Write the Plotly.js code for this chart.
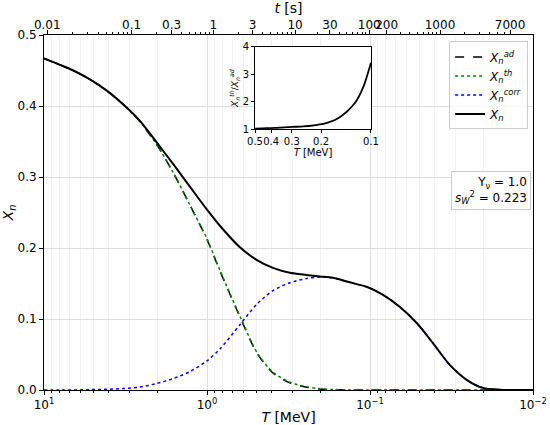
<!DOCTYPE html>
<html>
<head>
<meta charset="utf-8">
<script src="https://cdn.plot.ly/plotly-3.0.1.min.js"></script>
<style>html,body{margin:0;padding:0;background:#fff}#chart{width:550px;height:425px}</style>
</head>
<body>
<div id="chart"></div>
<script>
// Temperature grid [MeV]
const T = [10, 7.98, 6.61, 5.23, 4.12, 3.26, 2.58, 2.04, 1.61, 1.27, 1.0, 0.831, 0.628, 0.494, 0.394, 0.31, 0.245, 0.203, 0.169, 0.135, 0.104, 0.0832, 0.0655, 0.0515, 0.0411, 0.0323, 0.0254, 0.0203, 0.0159, 0.0125, 0.01];
const Xad = [0.467, 0.458, 0.450, 0.4375, 0.4216, 0.402, 0.378, 0.346, 0.306, 0.260, 0.212, 0.167, 0.103, 0.052, 0.024, 0.010, 0.004, 0.0015, 0.0005, 0.0001, 0, 0, 0, 0, 0, 0, 0, 0, 0, 0, 0];
const Xth = [0.467, 0.458, 0.450, 0.4375, 0.4216, 0.402, 0.378, 0.346, 0.306, 0.260, 0.213, 0.168, 0.104, 0.053, 0.025, 0.011, 0.0045, 0.0018, 0.0007, 0.0002, 0.0001, 0, 0, 0, 0, 0, 0, 0, 0, 0, 0];
const Xcorr = [0, 0, 0, 0.0005, 0.001, 0.002, 0.0042, 0.0092, 0.0162, 0.026, 0.041, 0.058, 0.092, 0.121, 0.140, 0.151, 0.157, 0.159, 0.158, 0.152, 0.145, 0.134, 0.117, 0.094, 0.066, 0.035, 0.014, 0.003, 0.0005, 0, 0];
const Xn = [0.467, 0.458, 0.450, 0.4375, 0.4216, 0.402, 0.379, 0.349, 0.318, 0.286, 0.254, 0.231, 0.201, 0.183, 0.172, 0.165, 0.162, 0.160, 0.158, 0.152, 0.145, 0.134, 0.117, 0.094, 0.066, 0.035, 0.014, 0.003, 0.0005, 0, 0];

// Inset: ratio X_th / X_ad
const insetT = [0.5, 0.45, 0.4, 0.371, 0.3, 0.256, 0.22, 0.194, 0.175, 0.161, 0.15, 0.14, 0.13, 0.122, 0.111, 0.1025, 0.1];
const insetRatio = [1.03, 1.04, 1.05, 1.06, 1.09, 1.11, 1.15, 1.20, 1.28, 1.38, 1.50, 1.64, 1.84, 2.05, 2.55, 3.20, 3.42];

// Tick labels
const bottomTickVals = [10, 1, 0.1, 0.01];
const bottomTickText = ['10<sup>1</sup>', '10<sup>0</sup>', '10<sup>\u22121</sup>', '10<sup>\u22122</sup>'];
const topTickTime = [0.01, 0.1, 0.3, 1, 3, 10, 30, 100, 200, 1000, 7000];
const topTickT = [9.55, 2.90, 1.65, 0.915, 0.525, 0.288, 0.176, 0.101, 0.079, 0.0372, 0.01383];
const topTickText = ['0.01', '0.1', '0.3', '1', '3', '10', '30', '100', '200', '1000', '7000'];
const insetTickVals = [0.5, 0.4, 0.3, 0.2, 0.1];
const insetTickText = ['0.5', '0.4', '0.3', '0.2', '0.1'];
const yTickVals = [0, 0.1, 0.2, 0.3, 0.4, 0.5];

// minor tick positions (bottom: 2..9 per decade)
const minorVals = [];
[1, 0.1, 0.01].forEach(d => { for (let k = 2; k <= 9; k++) minorVals.push(k * d); });
// minor tick positions (top: t = 2..9 per decade, placed between labelled ticks)
const topMinor = [];
[0.01, 0.1, 1, 10, 100, 1000].forEach(d => {
  for (let k = 2; k <= 9; k++) {
    const t = k * d;
    if (topTickTime.includes(+t.toPrecision(6)) || t > 9000) continue;
    const lt = Math.log10(t);
    for (let i = 0; i < topTickTime.length - 1; i++) {
      const a = Math.log10(topTickTime[i]), b = Math.log10(topTickTime[i + 1]);
      if (lt > a && lt < b) {
        const f = (lt - a) / (b - a);
        const la = Math.log10(topTickT[i]), lb = Math.log10(topTickT[i + 1]);
        topMinor.push(Math.pow(10, la + f * (lb - la)));
      }
    }
  }
});

const FONT = 'DejaVu Sans, sans-serif';
const SM = 0.8;

const traces = [
  {x: T, y: Xad, type: 'scatter', mode: 'lines', name: '<i>X</i><sub><i>n</i></sub><sup><i>ad</i></sup>',
   line: {color: 'black', width: 1.5, dash: 'dash', shape: 'spline', smoothing: SM}},
  {x: T, y: Xth, type: 'scatter', mode: 'lines', name: '<i>X</i><sub><i>n</i></sub><sup><i>th</i></sup>',
   line: {color: 'green', width: 1.5, dash: 'dot', shape: 'spline', smoothing: SM}},
  {x: T, y: Xcorr, type: 'scatter', mode: 'lines', name: '<i>X</i><sub><i>n</i></sub><sup><i>corr</i></sup>',
   line: {color: 'blue', width: 1.5, dash: 'dot', shape: 'spline', smoothing: SM}},
  {x: T, y: Xn, type: 'scatter', mode: 'lines', name: '<i>X</i><sub><i>n</i></sub>',
   line: {color: 'black', width: 2, shape: 'spline', smoothing: SM}},
  {x: insetT, y: insetRatio, type: 'scatter', mode: 'lines', xaxis: 'x3', yaxis: 'y3', showlegend: false,
   line: {color: 'black', width: 1.8, shape: 'spline', smoothing: SM}},
  {x: [T[0]], y: [null], type: 'scatter', mode: 'lines', xaxis: 'x2', yaxis: 'y', showlegend: false, hoverinfo: 'skip'}
];

const layout = {
  width: 550, height: 425,
  margin: {l: 44, r: 17, t: 35, b: 35},
  paper_bgcolor: 'white', plot_bgcolor: 'white',
  font: {family: FONT, size: 12, color: 'black'},
  showlegend: true,
  legend: {x: 0.99, y: 0.982, xanchor: 'right', yanchor: 'top', bgcolor: 'rgba(255,255,255,0.85)',
           bordercolor: '#cccccc', borderwidth: 1, font: {size: 12}, itemwidth: 30, tracegroupgap: 0},
  xaxis: {type: 'log', range: [1, -2], tickmode: 'array', tickvals: bottomTickVals, ticktext: bottomTickText,
          ticks: 'outside', ticklen: 4, tickcolor: 'black', showline: true, linecolor: 'black', linewidth: 1,
          showgrid: true, gridcolor: '#dedede', zeroline: false, automargin: false, tickangle: 0,
          minor: {tickmode: 'array', tickvals: minorVals, ticks: 'outside', ticklen: 2, tickcolor: 'black',
                  showgrid: true, gridcolor: '#f1f1f1'},
          tickfont: {size: 12}, title: {text: '<i>T</i> [MeV]', font: {size: 14}, standoff: 4}},
  xaxis2: {type: 'log', range: [1, -2], overlaying: 'x', side: 'top', anchor: 'y',
           tickmode: 'array', tickvals: topTickT, ticktext: topTickText, tickangle: 0, ticklabelstandoff: -4,
           ticks: 'outside', ticklen: 4, tickcolor: 'black', showline: true, linecolor: 'black', linewidth: 1,
           minor: {tickmode: 'array', tickvals: topMinor, ticks: 'outside', ticklen: 2, tickcolor: 'black', showgrid: false},
           showgrid: false, zeroline: false, automargin: false, tickfont: {size: 12},
           title: {text: '<i>t</i> [s]', font: {size: 14}, standoff: 2}},
  yaxis: {range: [0, 0.5], tickmode: 'array', tickvals: yTickVals, tickformat: '.1f',
          ticks: 'outside', ticklen: 4, tickcolor: 'black', showline: true, linecolor: 'black', linewidth: 1,
          mirror: true, showgrid: true, gridcolor: '#dedede', zeroline: false, automargin: false,
          tickfont: {size: 12}, title: {text: '<i>X</i><sub><i>n</i></sub>', font: {size: 14}, standoff: 6}},
  xaxis3: {domain: [0.4315, 0.6687], anchor: 'y3', type: 'log', range: [Math.log10(0.5), -1],
           tickmode: 'array', tickvals: insetTickVals, ticktext: insetTickText, tickangle: 0,
           ticks: 'outside', ticklen: 3, tickcolor: 'black', showline: true, linecolor: 'black', linewidth: 1,
           mirror: true, showgrid: false, zeroline: false, automargin: false, tickfont: {size: 10},
           title: {text: '<i>T</i> [MeV]', font: {size: 10}, standoff: 0}},
  yaxis3: {domain: [0.734, 0.967], anchor: 'x3', range: [1, 4], dtick: 1,
           ticks: 'outside', ticklen: 3, tickcolor: 'black', showline: true, linecolor: 'black', linewidth: 1,
           mirror: true, showgrid: false, zeroline: false, automargin: false, tickfont: {size: 10},
           title: {text: '<i>X</i><sub><i>n</i></sub><sup><i>th</i></sup>/<i>X</i><sub><i>n</i></sub><sup><i>ad</i></sup>', font: {size: 9}, standoff: 2}},
  annotations: [{
    xref: 'paper', yref: 'paper', x: 0.995, y: 0.5606, xanchor: 'right', yanchor: 'middle', align: 'right',
    showarrow: false, bgcolor: 'white', bordercolor: '#cccccc', borderwidth: 1, borderpad: 3,
    font: {size: 12},
    text: 'Y<sub>\u03bd</sub> = 1.0<br><i>s</i><sub><i>W</i></sub><sup>2</sup> = 0.223'
  }]
};

Plotly.newPlot('chart', traces, layout, {displayModeBar: false, staticPlot: true});
</script>
</body>
</html>
